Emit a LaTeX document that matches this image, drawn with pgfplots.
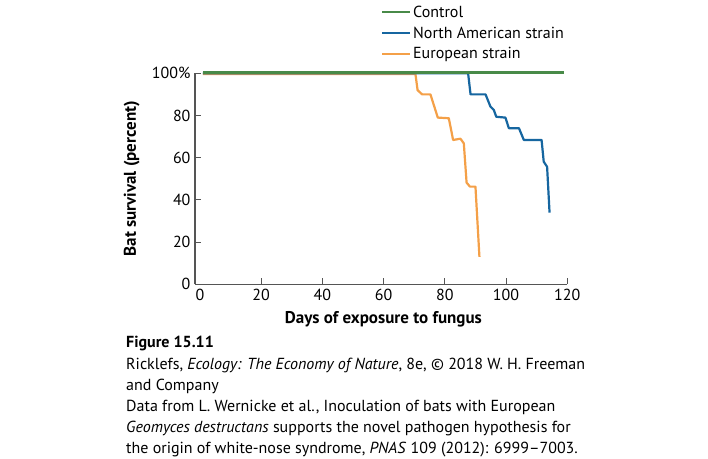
\documentclass[border=0pt]{standalone}
\usepackage{pgfplots}
\pgfplotsset{compat=1.18}
\usepackage{fontspec}
\setmainfont{PT Sans}
\definecolor{ctrl}{RGB}{72,138,72}
\definecolor{namer}{RGB}{22,102,160}
\definecolor{euro}{RGB}{244,160,72}
\definecolor{axgray}{RGB}{85,85,85}
\newcommand{\fs}{\fontsize{16}{19}\selectfont}
\newcommand{\fl}{\fontsize{17}{20}\selectfont}
\begin{document}
\begin{tikzpicture}
\useasboundingbox (0pt,0pt) rectangle (708pt,458pt);
\begin{axis}[
  at={(195pt,173.7pt)}, anchor=south west,
  scale only axis, width=372.3pt, height=211pt,
  xmin=-1.6, xmax=120, ymin=0, ymax=100,
  axis x line*=bottom, axis y line*=left,
  axis line style={axgray, line width=1.3pt},
  tick style={axgray, line width=1pt},
  tick align=inside, major tick length=6pt,
  xtick={20,40,...,120},
  extra x ticks={0}, extra x tick style={major tick length=0pt},
  ytick={0,20,40,60,80,100},
  yticklabels={0,20,40,60,80,100\%},
  /pgf/number format/assume math mode=true,
  tick label style={font=\fs, text=black},
  xticklabel style={yshift=-1pt},
  yticklabel style={xshift=-1pt},
  xlabel={\textbf{Days of exposure to fungus}},
  ylabel={\textbf{Bat survival (percent)}},
  label style={font=\fl},
  xlabel style={at={(axis description cs:0.506,-0.1645)}, anchor=center},
  ylabel style={at={(axis description cs:-0.170,0.5)}, anchor=center},
  legend style={at={(axis description cs:0.4995,1.33)}, anchor=north west,
    draw=none, fill=none, font=\fs, inner sep=0pt, row sep=4pt},
  legend cell align=left,
  legend image code/.code={\draw[#1] (0pt,0pt) -- (24pt,0pt); \path (0pt,0pt) -- (28pt,0pt);},
  every axis plot/.append style={line width=2.2pt, line join=round},
  clip=false,
]
\addlegendimage{ctrl, line width=2pt}
\addlegendentry{Control}
\addlegendimage{namer, line width=2pt}
\addlegendentry{North American strain}
\addlegendimage{euro, line width=2pt}
\addlegendentry{European strain}

\addplot[euro, forget plot] coordinates {
(1,99.6) (70.4,99.6) (71.1,92) (72.6,90) (75.3,90) (77.7,79) (81.3,78.7)
(82.7,68.4) (85.1,69) (86.2,66.8) (87.1,48.2) (88.2,46.3) (90,46.3) (91.3,13)
};
\addplot[namer, forget plot] coordinates {
(1,100) (87.6,100) (88.4,90) (93.3,90) (94.9,84.2) (96,82.6) (96.8,79.4)
(99.8,79) (100.9,74) (104.2,74) (105.8,68.4) (111.6,68.4) (112.3,58.1)
(113.4,55.7) (114.2,34)
};
\addplot[ctrl, forget plot] coordinates {(1,100.4) (119,100.4)};
\end{axis}
\begin{scope}[every node/.style={anchor=base west, inner sep=0pt, font=\fs}]
\node at (126pt,110.5pt) {\textbf{Figure 15.11}};
\node at (126pt,88.5pt) {Ricklefs, \textit{Ecology: The Economy of Nature}, 8e, © 2018 W. H. Freeman};
\node at (126pt,67.5pt) {and Company};
\node at (126pt,46.5pt) {Data from L. Wernicke et al., Inoculation of bats with European};
\node at (126pt,25.5pt) {\textit{Geomyces destructans} supports the novel pathogen hypothesis for};
\node at (126pt,4.5pt) {the origin of white-nose syndrome, \textit{PNAS} 109 (2012): 6999–7003.};
\end{scope}
\end{tikzpicture}
\end{document}
